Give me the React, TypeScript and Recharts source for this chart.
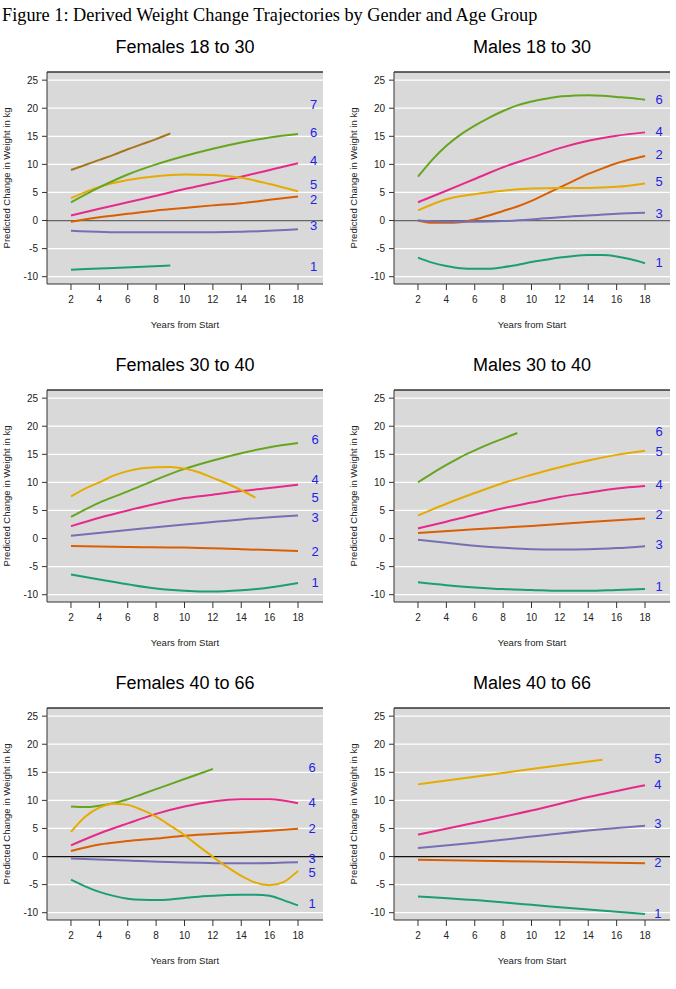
import React from 'react'
import { LineChart, Line, XAxis, YAxis, CartesianGrid, ReferenceLine, ReferenceDot } from 'recharts'

// sample years
const evenYears = [2, 4, 6, 8, 10, 12, 14, 16, 18]
const allYears = [2, 3, 4, 5, 6, 7, 8, 9, 10, 11, 12, 13, 14, 15, 16, 17, 18]
const quadYears = [2, 6, 10, 14, 18]

const xTicks = [2, 4, 6, 8, 10, 12, 14, 16, 18]
const yTicks = [-10, -5, 0, 5, 10, 15, 20, 25]
const gridValues = [-10, -5, 5, 10, 15, 20, 25]

// Females 18 to 30
const fYoungC7Years = [2, 3, 4, 5, 6, 7, 8, 9]
const fYoungC7 = [9.0, 9.9, 10.8, 11.7, 12.7, 13.6, 14.5, 15.5]
const fYoungC6 = [3.25, 5.9, 8.2, 10.0, 11.5, 12.8, 13.9, 14.8, 15.4]
const fYoungC5 = [4.0, 6.0, 7.2, 7.9, 8.2, 8.1, 7.6, 6.5, 5.2]
const fYoungC4 = [0.9, 2.1, 3.25, 4.4, 5.6, 6.7, 7.8, 9.0, 10.2]
const fYoungC2 = [-0.2, 0.6, 1.2, 1.8, 2.25, 2.7, 3.1, 3.7, 4.3]
const fYoungC3 = [-1.8, -2.1, -2.1, -2.0, -1.55]
const fYoungC1Years = [2, 5, 9]
const fYoungC1 = [-8.75, -8.45, -8.0]
const fYoungLabels = ['7', '6', '4', '5', '2', '3', '1']
const fYoungLabelY = [20.7, 15.7, 10.8, 6.4, 3.8, -0.8, -8.1]

// Males 18 to 30
const mYoungC6 = [7.8, 10.8, 13.3, 15.3, 16.9, 18.3, 19.5, 20.5, 21.2, 21.7, 22.1, 22.25, 22.3, 22.2, 22.0, 21.8, 21.5]
const mYoungC4 = [3.25, 5.3, 7.4, 9.5, 11.2, 12.9, 14.2, 15.1, 15.7]
const mYoungC2 = [0, -0.4, -0.4, -0.3, 0.2, 0.9, 1.7, 2.5, 3.5, 4.7, 5.9, 7.1, 8.3, 9.3, 10.2, 10.9, 11.5]
const mYoungC5 = [1.8, 3.8, 4.7, 5.3, 5.7, 5.8, 5.8, 6.0, 6.6]
const mYoungC3 = [0, -0.2, -0.2, -0.1, 0.2, 0.6, 0.9, 1.2, 1.4]
const mYoungC1 = [-6.6, -7.5, -8.1, -8.5, -8.6, -8.6, -8.3, -7.9, -7.4, -7.0, -6.6, -6.3, -6.15, -6.15, -6.4, -6.9, -7.6]
const mYoungLabels = ['6', '4', '2', '5', '3', '1']
const mYoungLabelY = [21.5, 15.8, 11.7, 7.0, 1.2, -7.5]

// Females 30 to 40
const fMidC6 = [3.85, 6.4, 8.4, 10.5, 12.4, 13.9, 15.2, 16.25, 17.0]
const fMidC5Years = [2, 3, 4, 5, 6, 7, 8, 9, 10, 11, 12, 13, 14, 15]
const fMidC5 = [7.5, 8.9, 10.0, 11.2, 12.0, 12.5, 12.7, 12.75, 12.45, 11.8, 10.8, 9.8, 8.6, 7.3]
const fMidC4 = [2.2, 3.7, 5.0, 6.2, 7.2, 7.8, 8.45, 9.0, 9.6]
const fMidC3 = [0.5, 1.5, 2.5, 3.4, 4.1]
const fMidC2 = [-1.35, -1.5, -1.6, -1.9, -2.2]
const fMidC1 = [-6.4, -7.3, -8.15, -8.9, -9.3, -9.45, -9.2, -8.7, -7.9]
const fMidLabels = ['6', '4', '5', '3', '2', '1']
const fMidLabelY = [17.6, 10.6, 7.3, 3.85, -2.25, -7.8]

// Males 30 to 40
const mMidC6Years = [2, 3, 4, 5, 6, 7, 8, 9]
const mMidC6 = [10.0, 11.6, 13.1, 14.5, 15.7, 16.8, 17.8, 18.8]
const mMidC5 = [4.1, 6.2, 8.1, 9.9, 11.35, 12.7, 13.9, 14.9, 15.65]
const mMidC4 = [1.8, 3.0, 4.25, 5.4, 6.4, 7.4, 8.15, 8.9, 9.35]
const mMidC2 = [1.0, 1.65, 2.25, 2.95, 3.55]
const mMidC3 = [-0.2, -0.75, -1.3, -1.65, -1.9, -1.95, -1.9, -1.7, -1.35]
const mMidC1 = [-7.8, -8.3, -8.7, -9.0, -9.15, -9.3, -9.3, -9.15, -9.0]
const mMidLabels = ['6', '5', '4', '2', '3', '1']
const mMidLabelY = [19.1, 15.55, 9.6, 4.3, -1.05, -8.6]

// Females 40 to 66
const fOldC6Years = [2, 3, 4, 5, 6, 7, 8, 9, 10, 11, 12]
const fOldC6 = [8.9, 8.8, 9.05, 9.5, 10.2, 11.1, 12.0, 12.9, 13.8, 14.7, 15.6]
const fOldC5 = [4.4, 7.1, 8.7, 9.4, 9.2, 8.3, 7.1, 5.5, 3.8, 1.85, -0.05, -1.85, -3.45, -4.65, -5.1, -4.5, -2.55]
const fOldC4 = [2.0, 4.1, 5.9, 7.6, 8.9, 9.8, 10.2, 10.2, 9.5]
const fOldC2 = [1.0, 2.15, 2.75, 3.2, 3.7, 4.0, 4.3, 4.6, 4.95]
const fOldC3 = [-0.35, -0.7, -1.05, -1.2, -1.0]
const fOldC1 = [-4.1, -5.3, -6.3, -7.0, -7.5, -7.7, -7.75, -7.65, -7.4, -7.15, -7.0, -6.85, -6.8, -6.8, -7.0, -7.8, -8.7]
const fOldLabels = ['6', '4', '2', '3', '5', '1']
const fOldLabelY = [15.9, 9.7, 5.0, -0.3, -2.9, -8.4]

// Males 40 to 66
const mOldC5Years = [2, 6, 10, 15]
const mOldC5 = [12.85, 14.2, 15.6, 17.25]
const mOldC4 = [3.9, 6.0, 8.2, 10.6, 12.7]
const mOldC3 = [1.5, 2.45, 3.55, 4.65, 5.5]
const mOldC2Years = [2, 10, 18]
const mOldC2 = [-0.55, -0.9, -1.2]
const mOldC1 = [-7.1, -7.75, -8.6, -9.45, -10.25]
const mOldLabels = ['5', '4', '3', '2', '1']
const mOldLabelY = [17.4, 12.85, 5.85, -1.0, -10.1]

const classColors: Record<string, string> = {
  '1': '#1B9E77',
  '2': '#D95F02',
  '3': '#7570B3',
  '4': '#E7298A',
  '5': '#E6AB02',
  '6': '#66A61E',
  '7': '#A6761D',
}

const sans = '"Liberation Sans", Arial, Helvetica, sans-serif'
const xDomain: [number, number] = [0.31, 19.76]
const yDomain: [number, number] = [-11.3, 26.45]

type Series = { cls: string; years: number[]; values: number[] }

interface PanelProps {
  title: string
  series: Series[]
  labels: string[]
  labelY: number[]
  labelX: number
  zeroColor?: string
  left: number
  top: number
}

const pts = (years: number[], values: number[]) => years.map((x, i) => ({ x, y: values[i] }))

function Panel({ title, series, labels, labelY, labelX, zeroColor, left, top }: PanelProps) {
  return (
    <div style={{ position: 'absolute', left, top, width: 329, height: 314, fontFamily: sans }}>
      <div
        style={{
          position: 'absolute',
          left: 47,
          top: 6,
          width: 276,
          textAlign: 'center',
          fontSize: 18,
          lineHeight: '22px',
          color: '#000',
          zIndex: 2,
        }}
      >
        {title}
      </div>
      <LineChart width={329} height={314} margin={{ top: 42, right: 6, bottom: 10, left: 0 }}>
        <CartesianGrid
          vertical={false}
          horizontalValues={gridValues}
          stroke="#ffffff"
          strokeWidth={1.2}
          fill="#d9d9d9"
          fillOpacity={1}
        />
        <XAxis
          type="number"
          dataKey="x"
          domain={xDomain}
          ticks={xTicks}
          interval={0}
          allowDataOverflow
          height={50}
          tickSize={6}
          tickMargin={6}
          stroke="#333333"
          tick={{ fontSize: 10, fill: '#222222' }}
          label={{ value: 'Years from Start', position: 'insideBottom', offset: 6, fontSize: 9.5, fill: '#222222' }}
        />
        <YAxis
          type="number"
          dataKey="y"
          domain={yDomain}
          ticks={yTicks}
          interval={0}
          allowDataOverflow
          width={47}
          tickSize={5}
          tickMargin={4}
          stroke="#333333"
          tick={{ fontSize: 10, fill: '#222222' }}
          label={{
            value: 'Predicted Change in Weight in kg',
            angle: -90,
            position: 'insideLeft',
            offset: 7,
            fontSize: 9.5,
            fill: '#222222',
            style: { textAnchor: 'middle' },
          }}
        />
        <ReferenceLine y={yDomain[1]} stroke="#333333" strokeWidth={1.5} />
        {zeroColor && <ReferenceLine y={0} stroke={zeroColor} strokeWidth={1.2} />}
        {series.map((s, i) => (
          <Line
            key={i}
            data={pts(s.years, s.values)}
            dataKey="y"
            type="monotone"
            stroke={classColors[s.cls]}
            strokeWidth={2}
            dot={false}
            activeDot={false}
            isAnimationActive={false}
          />
        ))}
        {labels.map((name, i) => (
          <ReferenceDot
            key={name}
            x={labelX}
            y={labelY[i]}
            r={0}
            stroke="none"
            fill="none"
            label={{ value: name, position: 'center', fontSize: 13, fill: '#2222e6' }}
          />
        ))}
      </LineChart>
    </div>
  )
}

const colX = [0, 347]
const rowY = [30, 348, 666]

export default function App() {
  return (
    <div
      style={{
        position: 'absolute',
        left: 0,
        top: 0,
        width: 676,
        height: 989,
        background: '#ffffff',
        overflow: 'hidden',
      }}
    >
      <div
        style={{
          position: 'absolute',
          left: 2,
          top: 4,
          fontFamily: '"Liberation Serif", "Times New Roman", serif',
          fontSize: 18.3,
          lineHeight: '22px',
          color: '#000',
          whiteSpace: 'nowrap',
        }}
      >
        Figure 1: Derived Weight Change Trajectories by Gender and Age Group
      </div>
      <Panel
        title="Females 18 to 30"
        left={colX[0]}
        top={rowY[0]}
        zeroColor="#666666"
        labelX={19.1}
        labels={fYoungLabels}
        labelY={fYoungLabelY}
        series={[
          { cls: '1', years: fYoungC1Years, values: fYoungC1 },
          { cls: '3', years: quadYears, values: fYoungC3 },
          { cls: '2', years: evenYears, values: fYoungC2 },
          { cls: '4', years: evenYears, values: fYoungC4 },
          { cls: '5', years: evenYears, values: fYoungC5 },
          { cls: '6', years: evenYears, values: fYoungC6 },
          { cls: '7', years: fYoungC7Years, values: fYoungC7 },
        ]}
      />
      <Panel
        title="Males 18 to 30"
        left={colX[1]}
        top={rowY[0]}
        zeroColor="#666666"
        labelX={19.0}
        labels={mYoungLabels}
        labelY={mYoungLabelY}
        series={[
          { cls: '1', years: allYears, values: mYoungC1 },
          { cls: '2', years: allYears, values: mYoungC2 },
          { cls: '3', years: evenYears, values: mYoungC3 },
          { cls: '5', years: evenYears, values: mYoungC5 },
          { cls: '4', years: evenYears, values: mYoungC4 },
          { cls: '6', years: allYears, values: mYoungC6 },
        ]}
      />
      <Panel
        title="Females 30 to 40"
        left={colX[0]}
        top={rowY[1]}
        labelX={19.2}
        labels={fMidLabels}
        labelY={fMidLabelY}
        series={[
          { cls: '1', years: evenYears, values: fMidC1 },
          { cls: '2', years: quadYears, values: fMidC2 },
          { cls: '3', years: quadYears, values: fMidC3 },
          { cls: '4', years: evenYears, values: fMidC4 },
          { cls: '6', years: evenYears, values: fMidC6 },
          { cls: '5', years: fMidC5Years, values: fMidC5 },
        ]}
      />
      <Panel
        title="Males 30 to 40"
        left={colX[1]}
        top={rowY[1]}
        labelX={19.0}
        labels={mMidLabels}
        labelY={mMidLabelY}
        series={[
          { cls: '1', years: evenYears, values: mMidC1 },
          { cls: '3', years: evenYears, values: mMidC3 },
          { cls: '2', years: quadYears, values: mMidC2 },
          { cls: '4', years: evenYears, values: mMidC4 },
          { cls: '5', years: evenYears, values: mMidC5 },
          { cls: '6', years: mMidC6Years, values: mMidC6 },
        ]}
      />
      <Panel
        title="Females 40 to 66"
        left={colX[0]}
        top={rowY[2]}
        zeroColor="#111111"
        labelX={19.0}
        labels={fOldLabels}
        labelY={fOldLabelY}
        series={[
          { cls: '1', years: allYears, values: fOldC1 },
          { cls: '3', years: quadYears, values: fOldC3 },
          { cls: '2', years: evenYears, values: fOldC2 },
          { cls: '4', years: evenYears, values: fOldC4 },
          { cls: '6', years: fOldC6Years, values: fOldC6 },
          { cls: '5', years: allYears, values: fOldC5 },
        ]}
      />
      <Panel
        title="Males 40 to 66"
        left={colX[1]}
        top={rowY[2]}
        zeroColor="#111111"
        labelX={18.9}
        labels={mOldLabels}
        labelY={mOldLabelY}
        series={[
          { cls: '1', years: quadYears, values: mOldC1 },
          { cls: '2', years: mOldC2Years, values: mOldC2 },
          { cls: '3', years: quadYears, values: mOldC3 },
          { cls: '4', years: quadYears, values: mOldC4 },
          { cls: '5', years: mOldC5Years, values: mOldC5 },
        ]}
      />
    </div>
  )
}
